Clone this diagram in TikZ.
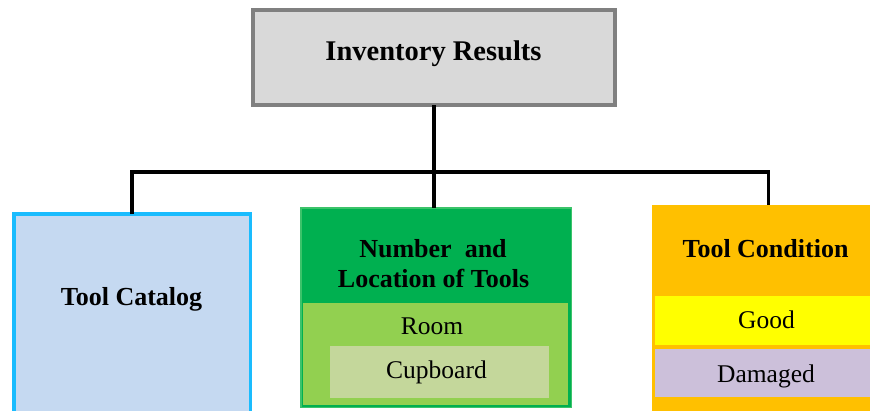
\documentclass[tikz,border=0pt]{standalone}
\usepackage{fontspec}
\setmainfont{Liberation Serif}
\definecolor{topfill}{HTML}{D9D9D9}
\definecolor{topdraw}{HTML}{808080}
\definecolor{catfill}{HTML}{C5D9F1}
\definecolor{catdraw}{HTML}{1ABCFE}
\definecolor{numfill}{HTML}{00B050}
\definecolor{numdraw}{HTML}{3CC36A}
\definecolor{roomfill}{HTML}{92D050}
\definecolor{cupfill}{HTML}{C4D79B}
\definecolor{condfill}{HTML}{FFC000}
\definecolor{goodfill}{HTML}{FFFF00}
\definecolor{damfill}{HTML}{CCC0DA}
\tikzset{
  box/.style={rectangle, inner sep=0pt, outer sep=0pt},
  conn/.style={draw=black, line width=3.4pt, line join=miter},
  head/.style={anchor=base, inner sep=0pt, font=\fontsize{26}{29}\selectfont\bfseries},
  sub/.style={anchor=base, inner sep=0pt, font=\fontsize{25.5}{29}\selectfont},
}
\begin{document}
\begin{tikzpicture}[x=1pt,y=-1pt]
\useasboundingbox (0,0) rectangle (870,410);
\clip (0,0) rectangle (870,410);
% boxes
\node[box, fill=topfill, draw=topdraw, line width=4pt, minimum width=362pt, minimum height=95pt] (top) at (434,57.5) {};
\node[box, fill=catfill, draw=catdraw, line width=3.5pt, minimum width=236.5pt, minimum height=216pt] (cat) at (132,322) {};
\node[box, fill=numfill, draw=numdraw, line width=1.5pt, minimum width=270.5pt, minimum height=199.5pt] (num) at (436,307.5) {};
\node[box, fill=roomfill, minimum width=265pt, minimum height=102pt] (room) at (435.5,354) {};
\node[box, fill=cupfill, minimum width=219pt, minimum height=52pt] (cup) at (439.5,372) {};
\node[box, fill=condfill, minimum width=233pt, minimum height=225pt] (cond) at (768.5,317.5) {};
\node[box, fill=goodfill, minimum width=230pt, minimum height=49pt] (good) at (770,320.5) {};
\node[box, fill=damfill, minimum width=230pt, minimum height=48pt] (dam) at (770,373) {};
% texts
\node[head, font=\fontsize{28.5}{31}\selectfont\bfseries] (ttop) at (433.5,60) {Inventory Results};
\node[head] (tcat) at (131.5,305) {Tool Catalog};
\node[head] (tnum1) at (433,257) {Number\ \ and};
\node[head] (tnum2) at (433.5,287) {Location of Tools};
\node[sub] (troom) at (432,334) {Room};
\node[sub] (tcup) at (436.5,378) {Cupboard};
\node[head] (tcond) at (765.5,257) {Tool Condition};
\node[sub] (tgood) at (766.5,328) {Good};
\node[sub] (tdam) at (766,382) {Damaged};
% connectors
\coordinate (bar) at (434,172);
\draw[conn] (top.south) -- (bar);
\draw[conn] (cat.north) |- (bar) -| (cond.north);
\draw[conn] (bar) -- (bar |- num.north);
\end{tikzpicture}
\end{document}
